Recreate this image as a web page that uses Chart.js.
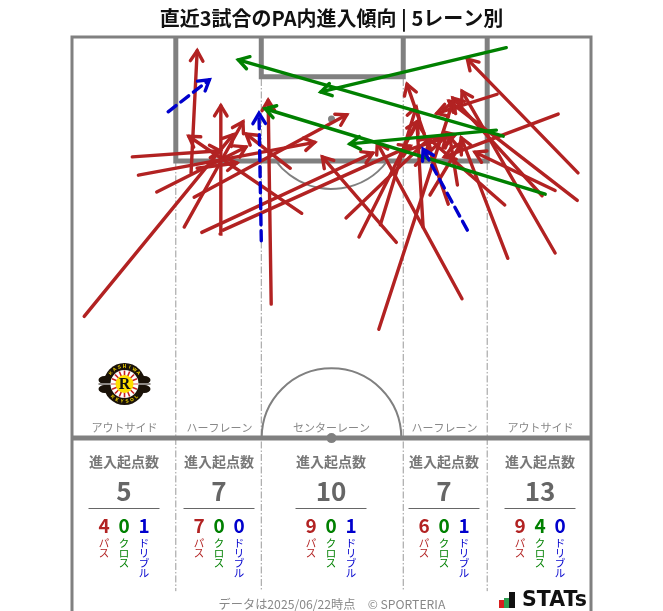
<!DOCTYPE html>
<html lang="ja">
<head>
<meta charset="utf-8">
<title>直近3試合のPA内進入傾向</title>
<script src="https://cdn.jsdelivr.net/npm/chart.js@4"></script>
<style>
  html, body { margin: 0; padding: 0; background: #fff; }
  canvas { display: block; }
</style>
</head>
<body>
<canvas id="pitchChart" width="663" height="611"></canvas>
<script>
// arrows in pitch metres: x across the pitch, y away from the goal line
const passStartX = [1.6, 7.9, 8.7, 11.1, 14.7, 19.4, 15.6, 16.0, 17.0, 19.8, 16.4, 30.1, 28.6, 26.1, 42.5, 35.9, 37.6, 40.2, 40.4, 43.0, 51.1, 49.3, 50.5, 46.0, 45.0, 46.9, 66.3, 66.2, 63.3, 63.3, 61.6, 57.1, 56.7, 63.7, 55.7];
const passStartY = [36.6, 15.7, 18.1, 20.3, 24.9, 25.8, 17.8, 21.0, 25.6, 25.3, 17.2, 23.1, 17.2, 35.0, 26.9, 23.7, 26.2, 38.3, 24.6, 15.1, 34.3, 21.9, 19.4, 24.9, 16.8, 20.7, 17.8, 21.4, 28.3, 20.1, 20.8, 29.0, 22.0, 10.1, 7.5];
const passEndX = [21.1, 19.4, 31.8, 22.8, 22.4, 19.5, 16.4, 36.0, 39.4, 44.3, 21.6, 15.3, 22.8, 25.7, 32.8, 46.9, 45.2, 49.9, 45.1, 50.2, 40.0, 43.9, 49.5, 45.2, 49.0, 51.0, 51.8, 49.4, 51.1, 52.8, 49.9, 51.0, 46.5, 48.8, 47.8];
const passEndY = [12.8, 14.9, 13.8, 14.4, 11.1, 9.0, 1.8, 10.2, 15.2, 14.3, 16.5, 13.0, 12.7, 8.3, 15.7, 13.2, 11.1, 8.5, 9.2, 12.8, 13.9, 6.2, 13.1, 11.3, 13.0, 13.9, 2.9, 8.4, 7.1, 15.1, 8.0, 13.2, 13.1, 15.7, 10.0];

const crossStartX = [56.9, 56.5, 62.0, 55.6];
const crossStartY = [1.4, 13.0, 20.6, 12.2];
const crossEndX = [32.6, 21.8, 25.3, 36.4];
const crossEndY = [7.2, 3.0, 9.4, 14.0];

const dribbleStartX = [12.6, 24.8, 51.8];
const dribbleStartY = [9.8, 26.7, 25.3];
const dribbleEndX = [18.0, 24.5, 46.0];
const dribbleEndY = [5.6, 10.0, 14.7];

// per lane numbers, left to right
const laneNames = ['アウトサイド', 'ハーフレーン', 'センターレーン', 'ハーフレーン', 'アウトサイド'];
const laneTotals = [5, 7, 10, 7, 13];
const lanePasses = [4, 7, 9, 6, 9];
const laneCrosses = [0, 0, 0, 0, 4];
const laneDribbles = [1, 0, 1, 1, 0];

const RED = '#b22222';
const GREEN = '#008000';
const BLUE = '#0000cd';
const LINE_GREY = '#808080';
const FONT = '"Noto Sans CJK JP", "Noto Sans", sans-serif';

function arrowDatasets(x0, y0, x1, y1, color, order, dash) {
    return x0.map((x, i) => ({
        data: [{ x: x, y: y0[i] }, { x: x1[i], y: y1[i] }],
        borderColor: color,
        borderWidth: 3.4,
        borderDash: dash,
        borderCapStyle: 'round',
        pointRadius: 0,
        showLine: true,
        clip: false,
        order: order
    }));
}

// open arrow head at the end of every arrow dataset
const arrowHeads = {
    id: 'arrowHeads',
    afterDatasetDraw(chart, args) {
        const ds = chart.data.datasets[args.index];
        const p = args.meta.data;
        const ctx = chart.ctx;
        const a = Math.atan2(p[1].y - p[0].y, p[1].x - p[0].x);
        const len = 12;
        ctx.save();
        ctx.strokeStyle = ds.borderColor;
        ctx.lineWidth = 3.4;
        ctx.lineCap = 'round';
        ctx.lineJoin = 'miter';
        ctx.beginPath();
        ctx.moveTo(p[1].x - len * Math.cos(a - 0.55), p[1].y - len * Math.sin(a - 0.55));
        ctx.lineTo(p[1].x, p[1].y);
        ctx.lineTo(p[1].x - len * Math.cos(a + 0.55), p[1].y - len * Math.sin(a + 0.55));
        ctx.stroke();
        ctx.restore();
    }
};

// pitch markings, all placed through the chart scales
const pitchLines = {
    id: 'pitchLines',
    beforeDatasetsDraw(chart) {
        const ctx = chart.ctx;
        const sx = chart.scales.x;
        const sy = chart.scales.y;
        const X = v => sx.getPixelForValue(v);
        const Y = v => sy.getPixelForValue(v);
        const metre = X(1) - X(0);

        const line = (pts, width, color, dash) => {
            ctx.beginPath();
            ctx.lineWidth = width;
            ctx.strokeStyle = color;
            ctx.setLineDash(dash || []);
            pts.forEach((q, i) => i ? ctx.lineTo(X(q[0]), Y(q[1])) : ctx.moveTo(X(q[0]), Y(q[1])));
            ctx.stroke();
        };

        ctx.save();
        // lane dividers
        const dash = [7, 2, 1.5, 2];
        line([[13.6, 16.5], [13.6, 72.6]], 1, '#999', dash);
        line([[54.4, 16.5], [54.4, 72.6]], 1, '#999', dash);
        line([[24.8, 5.5], [24.8, 72.6]], 1, '#999', dash);
        line([[43.4, 5.5], [43.4, 72.6]], 1, '#999', dash);

        // outline
        line([[0, 75.2], [0, 0], [68, 0], [68, 75.2]], 3, LINE_GREY);
        // penalty area and goal area
        line([[13.6, 0], [13.6, 16.25], [54.4, 16.25], [54.4, 0]], 5, LINE_GREY);
        line([[24.8, 0], [24.8, 5.2], [43.4, 5.2], [43.4, 0]], 5, LINE_GREY);
        // halfway line
        line([[0, 52.55], [68, 52.55]], 5, LINE_GREY);
        ctx.setLineDash([]);

        // arcs
        ctx.lineWidth = 2;
        ctx.strokeStyle = LINE_GREY;
        ctx.beginPath();
        ctx.arc(X(34), Y(10.75), 9.15 * metre, 0.64, Math.PI - 0.64);
        ctx.stroke();
        ctx.beginPath();
        ctx.arc(X(34), Y(52.55), 9.15 * metre, Math.PI, 0);
        ctx.stroke();

        // spots
        ctx.fillStyle = LINE_GREY;
        ctx.beginPath();
        ctx.arc(X(34), Y(10.75), 3.5, 0, Math.PI * 2);
        ctx.fill();
        ctx.beginPath();
        ctx.arc(X(34), Y(52.55), 5, 0, Math.PI * 2);
        ctx.fill();
        ctx.restore();
    }
};

function verticalText(ctx, text, x, y, step) {
    [...text].forEach((c, i) => ctx.fillText(c, x, y + i * step));
}

// lane labels, counts and footer
const laneText = {
    id: 'laneText',
    afterDraw(chart) {
        const ctx = chart.ctx;
        const centres = [124, 219, 331, 444, 540];
        ctx.save();
        ctx.textAlign = 'center';
        ctx.textBaseline = 'middle';
        centres.forEach((c, i) => {
            ctx.fillStyle = '#888';
            ctx.font = '11px ' + FONT;
            ctx.fillText(laneNames[i], c + 0.5, 428);

            ctx.fillStyle = '#777';
            ctx.font = 'bold 14px ' + FONT;
            ctx.fillText('進入起点数', c, 462);

            ctx.fillStyle = '#666';
            ctx.font = 'bold 26px ' + FONT;
            ctx.fillText(String(laneTotals[i]), c, 491);

            ctx.strokeStyle = '#666';
            ctx.lineWidth = 1;
            ctx.beginPath();
            ctx.moveTo(c - 35.5, 508.5);
            ctx.lineTo(c + 35.5, 508.5);
            ctx.stroke();

            const groups = [
                [lanePasses[i], 'パス', RED, -20],
                [laneCrosses[i], 'クロス', GREEN, 0],
                [laneDribbles[i], 'ドリブル', BLUE, 20]
            ];
            groups.forEach(g => {
                ctx.fillStyle = g[2];
                ctx.font = 'bold 19px ' + FONT;
                ctx.fillText(String(g[0]), c + g[3], 526);
                ctx.font = '10.5px ' + FONT;
                verticalText(ctx, g[1], c + g[3], 543, 10);
            });
        });

        ctx.fillStyle = '#888';
        ctx.font = '12.2px ' + FONT;
        ctx.fillText('データは2025/06/22時点', 287, 604);
        ctx.fillText('© SPORTERIA', 406.5, 604);

        // STATs mark
        ctx.fillStyle = '#d81e1e';
        ctx.fillRect(499, 600, 5, 8);
        ctx.fillStyle = '#2e9e4f';
        ctx.fillRect(504, 598, 5, 10);
        ctx.fillStyle = '#111';
        ctx.fillRect(509, 592, 6, 16);
        ctx.textAlign = 'left';
        ctx.font = 'bold 20.5px "DejaVu Sans"';
        ctx.fillText('STATs', 522, 601);
        ctx.restore();

        drawEmblem(ctx, 124.5, 384);
    }
};

// small club emblem
function drawEmblem(ctx, cx, cy) {
    ctx.save();
    ctx.fillStyle = '#1a1208';
    ctx.beginPath();
    ctx.ellipse(cx - 20, cy - 4, 6, 4, 0, 0, Math.PI * 2);
    ctx.ellipse(cx - 20, cy + 5, 6, 4, 0, 0, Math.PI * 2);
    ctx.fill();
    ctx.beginPath();
    ctx.ellipse(cx + 20, cy - 4, 6, 4, 0, 0, Math.PI * 2);
    ctx.ellipse(cx + 20, cy + 5, 6, 4, 0, 0, Math.PI * 2);
    ctx.fill();
    ctx.fillRect(cx - 26, cy - 1, 52, 2);
    ctx.beginPath();
    ctx.arc(cx, cy, 21, 0, Math.PI * 2);
    ctx.fill();
    ctx.fillStyle = '#fff';
    ctx.beginPath();
    ctx.arc(cx, cy, 14, 0, Math.PI * 2);
    ctx.fill();
    ctx.strokeStyle = '#c8201e';
    ctx.lineWidth = 1.6;
    for (let i = 0; i < 16; i++) {
        const a = i * Math.PI / 8;
        ctx.beginPath();
        ctx.moveTo(cx + 7 * Math.cos(a), cy + 7 * Math.sin(a));
        ctx.lineTo(cx + 13.5 * Math.cos(a), cy + 13.5 * Math.sin(a));
        ctx.stroke();
    }
    ctx.fillStyle = '#fff';
    ctx.fillRect(cx - 27, cy - 0.5, 54, 1);
    ctx.fillStyle = '#ffdf00';
    ctx.beginPath();
    ctx.arc(cx, cy, 9, 0, Math.PI * 2);
    ctx.fill();
    ctx.fillStyle = '#111';
    ctx.textAlign = 'center';
    ctx.textBaseline = 'middle';
    ctx.font = 'bold 16px "Liberation Serif"';
    ctx.fillText('R', cx, cy + 0.5);

    // club name around the ring
    ctx.fillStyle = '#ffdf00';
    ctx.font = 'bold 4.6px "Liberation Sans"';
    const top = 'KASHIWA';
    const bottom = 'REYSOL';
    [...top].forEach((c, i) => {
        const a = -Math.PI / 2 + (i - 3) * 0.3;
        ctx.save();
        ctx.translate(cx + 17.5 * Math.cos(a), cy + 17.5 * Math.sin(a));
        ctx.rotate(a + Math.PI / 2);
        ctx.fillText(c, 0, 0);
        ctx.restore();
    });
    [...bottom].forEach((c, i) => {
        const a = Math.PI / 2 - (i - 2.5) * 0.3;
        ctx.save();
        ctx.translate(cx + 17.5 * Math.cos(a), cy + 17.5 * Math.sin(a));
        ctx.rotate(a - Math.PI / 2);
        ctx.fillText(c, 0, 0);
        ctx.restore();
    });
    ctx.restore();
}

const ctx = document.getElementById('pitchChart').getContext('2d');
new Chart(ctx, {
    type: 'scatter',
    data: {
        datasets: [
            ...arrowDatasets(dribbleStartX, dribbleStartY, dribbleEndX, dribbleEndY, BLUE, 0, [10, 6]),
            ...arrowDatasets(crossStartX, crossStartY, crossEndX, crossEndY, GREEN, 1, []),
            ...arrowDatasets(passStartX, passStartY, passEndX, passEndY, RED, 2, [])
        ]
    },
    plugins: [pitchLines, arrowHeads, laneText],
    options: {
        responsive: false,
        animation: false,
        devicePixelRatio: 1,
        layout: { padding: { left: 72, right: 72, top: 0, bottom: 0 } },
        scales: {
            x: { type: 'linear', min: 0, max: 68, display: false },
            y: { type: 'linear', min: 0, max: 75.2, reverse: true, display: false }
        },
        plugins: {
            legend: { display: false },
            tooltip: { enabled: false },
            title: {
                display: true,
                text: '直近3試合のPA内進入傾向 | 5レーン別',
                color: '#111',
                font: { family: FONT, size: 20, weight: 'bold', lineHeight: 1.2 },
                padding: { top: 6, bottom: 7 }
            }
        }
    }
});
</script>
</body>
</html>
